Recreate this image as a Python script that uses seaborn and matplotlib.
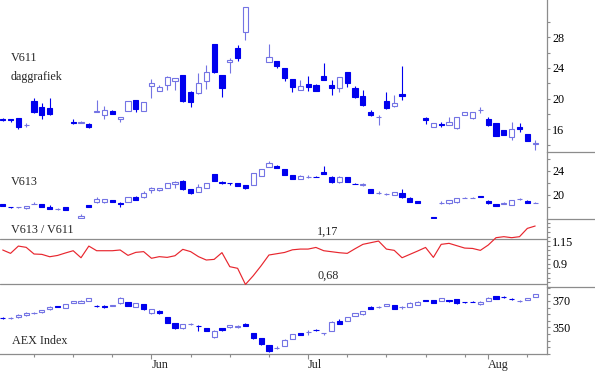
import numpy as np
import pandas as pd
import seaborn as sns
import matplotlib.pyplot as plt
from matplotlib.lines import Line2D
from matplotlib.ticker import FixedLocator, MultipleLocator

# trading day index 0..68
n_days = 69
week_ticks = [4, 9, 14, 24, 29, 34, 44, 49, 54, 59, 67]
month_ticks = [19, 39, 62]
month_labels = ["Jun", "Jul", "Aug"]

N = None
v611_open = [17.4, 17.3, 17.45, 16.5, 19.7, 18.95, 18.8, N, N, 16.95,
             16.85, 16.7, 18.3, 17.8, 18.4, 17.35, 18.4, 19.8, 18.4, 21.7,
             21.0, 21.8, 22.35, 23.05, 20.9, 20.7, 22.3, 27.1, 23.1, 24.75,
             26.65, 28.65, N, N, 24.8, 24.9, 23.95, 22.5, 21.1, 21.85,
             21.8, 22.95, 21.8, 21.35, 23.45, 21.45, 20.4, 18.2, 17.55, 19.7,
             19.05, 20.6, N, N, 17.5, 16.3, 16.7, 16.6, 16.15, 17.9,
             17.45, 18.5, 17.3, 16.8, 15.85, 15.05, 16.35, 15.35, 14.1]
v611_high = [17.5, 17.35, 17.5, 16.8, 20.1, 19.4, 20.1, N, N, 17.3,
             17.1, 16.8, 19.8, 19.1, 18.5, 17.55, 19.75, 19.85, 19.55, 22.5,
             21.8, 22.9, 22.7, 23.1, 20.95, 23.4, 24.4, 27.1, 23.1, 25.3,
             27.0, 32.0, N, N, 27.1, 24.9, 23.95, 22.5, 22.45, 22.95,
             21.9, 24.7, 22.45, 22.85, 23.5, 21.6, 21.1, 18.5, 17.85, 20.9,
             20.5, 24.3, N, N, 17.55, 16.8, 16.9, 17.55, 17.6, 18.3,
             18.25, 18.95, 17.65, 16.8, 15.9, 16.9, 16.8, 15.4, 14.6]
v611_low = [17.1, 16.9, 16.1, 16.3, 18.1, 17.4, 17.9, N, N, 16.7,
            16.8, 16.2, 18.25, 17.4, 17.95, 16.9, 18.35, 18.3, 18.35, 20.1,
            21.0, 21.1, 21.1, 19.6, 18.95, 20.6, 21.2, 23.4, 20.25, 23.4,
            24.9, 27.7, N, N, 24.8, 23.95, 22.3, 20.9, 21.1, 21.05,
            21.0, 22.4, 20.5, 20.8, 21.5, 20.1, 19.1, 17.7, 16.6, 18.7,
            18.85, 19.8, N, N, 16.7, 16.25, 16.35, 16.55, 16.1, 17.8,
            17.4, 18.1, 16.45, 15.1, 15.2, 14.55, 15.6, 14.45, 13.35]
v611_close = [17.2, 17.2, 16.3, 16.6, 18.2, 17.8, 18.0, N, N, 16.8,
              16.9, 16.25, 18.35, 18.5, 18.0, 17.55, 19.7, 18.65, 19.5, 22.0,
              21.5, 22.85, 22.65, 19.75, 19.6, 22.0, 23.45, 23.5, 21.35, 25.1,
              25.35, 32.0, N, N, 25.45, 24.25, 22.65, 21.5, 21.65, 21.55,
              21.05, 22.45, 21.45, 22.8, 22.1, 20.25, 19.2, 17.9, 17.6, 18.75,
              19.4, 20.3, N, N, 17.15, 16.8, 16.6, 16.9, 17.55, 18.2,
              18.2, 18.55, 16.6, 15.15, 15.25, 16.0, 16.1, 14.5, 14.15]

v613_open = [18.45, 17.95, 17.85, 17.7, 18.4, 18.35, 18.0, 17.6, 17.85, N,
             16.05, 18.2, 18.7, 18.7, 19.1, 18.65, 18.8, 19.65, 19.55, 20.8,
             20.75, 21.2, 21.8, 22.35, 20.9, 20.5, 21.2, 23.45, 22.15, 21.95,
             21.95, 21.6, 21.65, 23.2, 24.75, 24.9, 24.3, 23.3, 22.65, 23.0,
             23.05, 23.9, 23.05, 22.1, 22.95, 21.85, 21.7, 20.95, 20.3, 20.15,
             19.95, 20.35, 19.5, 18.95, N, 16.2, 18.6, 18.55, 18.7, 19.45,
             19.45, 19.7, 19.0, 18.4, 18.5, 18.25, 19.2, 19.0, 18.65]
v613_high = [18.5, 18.0, 17.95, 18.15, 18.7, 18.45, 18.3, 17.75, 17.9, N,
             16.7, 18.25, 19.6, 19.3, 19.15, 18.7, 19.6, 19.7, 20.6, 21.25,
             21.1, 22.05, 22.3, 22.4, 20.95, 21.8, 21.95, 23.5, 22.25, 22.0,
             22.0, 21.65, 23.65, 24.35, 25.7, 24.95, 24.35, 23.35, 23.3, 23.3,
             23.1, 24.85, 23.1, 23.1, 23.0, 21.9, 22.0, 21.0, 20.55, 20.35,
             20.5, 20.95, 19.55, 19.0, N, 16.25, 18.9, 19.15, 19.45, 19.6,
             19.6, 19.85, 19.05, 18.45, 18.75, 19.15, 19.4, 19.05, 18.85]
v613_low = [18.05, 17.8, 17.8, 17.65, 18.35, 17.95, 17.6, 17.5, 17.4, N,
            16.0, 17.85, 18.65, 18.65, 18.75, 18.0, 18.75, 19.05, 19.5, 20.25,
            20.7, 21.15, 21.2, 20.85, 20.2, 20.45, 21.15, 22.3, 21.8, 21.6,
            21.45, 21.0, 21.6, 23.15, 24.7, 24.5, 23.3, 22.65, 22.6, 22.8,
            22.95, 23.45, 22.05, 22.05, 22.15, 21.75, 21.45, 20.3, 20.1, 19.95,
            19.9, 19.5, 18.75, 18.55, N, 16.1, 18.5, 18.5, 18.65, 19.4,
            19.4, 19.6, 18.5, 18.05, 18.45, 18.2, 19.1, 18.6, 18.55]
v613_close = [18.1, 17.85, 17.9, 18.1, 18.45, 18.0, 17.65, 17.65, 17.45, N,
              16.4, 17.87, 19.27, 19.25, 18.8, 18.4, 19.55, 19.1, 20.25, 21.2,
              21.05, 22.0, 22.15, 20.9, 20.25, 21.25, 21.9, 22.35, 22.05, 21.9,
              21.5, 21.15, 23.6, 24.3, 25.3, 24.55, 23.35, 22.7, 23.15, 23.05,
              23.0, 23.5, 22.1, 23.05, 22.2, 21.8, 21.75, 20.35, 20.35, 20.2,
              20.45, 19.55, 18.8, 18.6, N, 16.15, 18.65, 19.1, 19.4, 19.5,
              19.5, 19.65, 18.55, 18.1, 18.55, 19.1, 19.25, 18.65, 18.65]

ratio = [1.053, 1.016, 1.096, 1.082, 1.009, 1.005, 0.979, 0.993, 1.02, 1.045,
         0.968, 1.096, 1.045, 1.045, 1.045, 1.053, 0.994, 1.027, 1.035, 0.962,
         0.98, 0.972, 0.99, 1.06, 1.035, 0.98, 0.943, 0.95, 1.024, 0.87,
         0.852, 0.675, 0.771, 0.88, 0.998, 1.012, 1.026, 1.055, 1.063, 1.063,
         1.081, 1.045, 1.034, 1.023, 1.016, 1.067, 1.115, 1.133, 1.151, 1.063,
         1.049, 0.968, 1.005, 1.042, 1.081, 0.972, 1.115, 1.126, 1.1, 1.074,
         1.07, 1.049, 1.107, 1.188, 1.199, 1.188, 1.199, 1.29, 1.316]
ratio_max, ratio_min = 1.17, 0.68

aex_open = [357.1, 357.2, 357.6, 359.1, 360.6, 361.4, 363.7, 365.9, 364.7, 368.7,
            368.8, 370.2, 366.5, 366.0, 366.4, 368.3, 369.0, 365.7, 367.5, 360.7,
            362.6, 357.6, 353.1, 349.3, 352.6, 351.3, 349.3, 342.9, 349.3, 349.9,
            349.9, 352.5, 345.5, 341.7, 336.6, 334.3, 336.1, 341.1, 345.5, 346.6,
            348.3, 345.4, 347.5, 355.0, 355.0, 358.6, 359.9, 365.7, 365.6, 366.2,
            367.0, 365.6, 365.7, 367.0, 370.4, 370.8, 370.0, 370.4, 371.3, 369.2,
            369.6, 367.5, 370.2, 373.8, 373.0, 371.7, 369.9, 370.8, 373.3]
aex_high = [357.8, 357.8, 359.8, 361.4, 361.5, 363.5, 366.0, 366.4, 368.0, 370.3,
            370.5, 372.4, 367.3, 366.6, 367.2, 372.8, 369.4, 368.6, 367.8, 364.0,
            363.0, 358.0, 353.5, 352.9, 353.6, 351.8, 349.8, 347.8, 349.7, 351.8,
            351.6, 353.2, 346.0, 342.3, 337.0, 335.5, 340.8, 345.0, 346.0, 348.2,
            348.8, 346.0, 354.6, 356.5, 357.9, 361.0, 362.7, 366.0, 366.3, 367.8,
            367.3, 366.5, 369.0, 369.8, 370.7, 371.1, 372.3, 370.9, 371.6, 369.6,
            370.0, 369.8, 372.8, 374.1, 373.6, 372.2, 370.9, 372.3, 375.6]
aex_low = [356.4, 356.7, 357.2, 358.7, 359.9, 361.0, 363.3, 365.2, 364.3, 368.3,
           368.4, 369.8, 365.2, 364.9, 366.0, 368.0, 366.0, 365.3, 363.4, 359.8,
           360.2, 353.0, 349.0, 348.8, 352.0, 347.5, 347.2, 342.3, 347.5, 349.5,
           349.6, 351.0, 341.4, 336.8, 331.5, 333.8, 335.8, 340.8, 344.0, 344.2,
           347.4, 344.2, 347.2, 352.2, 354.7, 358.3, 359.6, 363.7, 365.0, 365.9,
           363.7, 364.2, 365.4, 366.7, 369.8, 368.4, 369.7, 369.3, 367.5, 368.6,
           369.1, 367.2, 369.9, 371.2, 372.2, 370.8, 369.3, 370.5, 373.0]
aex_close = [356.8, 357.4, 359.4, 361.1, 360.8, 363.2, 365.7, 365.7, 367.7, 370.0,
             370.2, 372.0, 366.0, 365.6, 366.9, 372.0, 366.4, 368.3, 363.7, 363.7,
             360.7, 353.5, 349.3, 352.5, 352.9, 350.8, 347.5, 347.5, 347.8, 351.5,
             351.3, 351.2, 341.7, 337.1, 332.3, 334.6, 340.4, 344.7, 344.2, 346.8,
             347.8, 345.6, 354.3, 352.5, 357.6, 360.7, 362.4, 364.0, 365.8, 367.5,
             364.0, 365.8, 368.7, 369.5, 370.1, 368.7, 372.0, 370.1, 368.3, 368.9,
             369.4, 369.5, 372.5, 371.5, 372.7, 371.4, 370.1, 372.0, 375.3]

FILLED = "#0000ee"
HOLLOW = "#7474e4"
GRID = "#8c8c8c"
RED = "#e8262e"


def draw_candles(ax, o, h, l, c):
    df = pd.DataFrame({"open": o, "high": h, "low": l, "close": c},
                      dtype=float)
    df["day"] = np.arange(len(df))
    df = df.dropna()
    up = df["close"] >= df["open"]
    for is_up, part in df.groupby(up):
        col = HOLLOW if is_up else FILLED
        ax.vlines(part["day"], part["low"], part["high"], color=col,
                  lw=0.8, zorder=2)
        body = (part["close"] - part["open"]).abs()
        ax.bar(part["day"], body, bottom=part[["open", "close"]].min(axis=1),
               width=0.66, facecolor="white" if is_up else FILLED,
               edgecolor=col, linewidth=0.8, zorder=3)


sns.set_style("white")
plt.rcParams["font.family"] = ["Liberation Serif", "DejaVu Serif"]
plt.rcParams["font.size"] = 8.7

W, H = 595, 372
fig = plt.figure(figsize=(W / 100, H / 100), dpi=100)

right = 547 / W
bands = [(0, 152), (152, 219), (219, 287), (287, 354)]
axes = []
for top, bot in bands:
    ax = fig.add_axes([0, 1 - bot / H, right, (bot - top) / H])
    axes.append(ax)
ax1, ax2, ax3, ax4 = axes

draw_candles(ax1, v611_open, v611_high, v611_low, v611_close)
draw_candles(ax2, v613_open, v613_high, v613_low, v613_close)
sns.lineplot(x=np.arange(n_days), y=ratio, ax=ax3, color=RED,
             linewidth=0.85, zorder=3)
ax3.axhline(ratio_max, color=GRID, lw=0.9, zorder=1)
ax3.axhline(ratio_min, color=GRID, lw=0.9, zorder=1)
draw_candles(ax4, aex_open, aex_high, aex_low, aex_close)

ax1.set_ylim(13.04, 32.86)
ax2.set_ylim(15.9, 27.2)
ax3.set_ylim(0.647, 1.393)
ax4.set_ylim(329.8, 380.6)

ax1.yaxis.set_major_locator(FixedLocator([16, 20, 24, 28]))
ax1.yaxis.set_minor_locator(FixedLocator([14, 18, 22, 26, 30]))
ax2.yaxis.set_major_locator(FixedLocator([20, 24]))
ax2.yaxis.set_minor_locator(FixedLocator([18, 22, 26]))
ax3.yaxis.set_major_locator(FixedLocator([0.9, 1.15]))
ax3.yaxis.set_minor_locator(MultipleLocator(0.05))
ax3.set_yticklabels(["0.9", "1.15"])
ax4.yaxis.set_major_locator(FixedLocator([350, 370]))
ax4.yaxis.set_minor_locator(MultipleLocator(5))

for ax in axes:
    ax.set_xlim(-0.345, 69.51)
    ax.set_xlabel("")
    ax.set_ylabel("")
    for s in ["left", "top", "bottom"]:
        ax.spines[s].set_visible(False)
    ax.spines["right"].set_color(GRID)
    ax.spines["right"].set_linewidth(0.9)
    ax.yaxis.tick_right()
    ax.tick_params(axis="y", which="both", right=True, left=False,
                   length=2.2, width=0.8, color=GRID, pad=1.5,
                   labelsize=8.7, labelcolor="black")
    ax.tick_params(axis="x", which="both", bottom=False, labelbottom=False)
    ax.set_facecolor("none")

ax4.spines["bottom"].set_visible(True)
ax4.spines["bottom"].set_color(GRID)
ax4.spines["bottom"].set_linewidth(0.9)
ax4.xaxis.set_major_locator(FixedLocator(month_ticks))
ax4.xaxis.set_minor_locator(FixedLocator(week_ticks))
ax4.set_xticklabels(month_labels, ha="left")
ax4.tick_params(axis="x", which="major", bottom=True, labelbottom=True,
                length=3.6, width=0.8, color=GRID, pad=0.3, labelsize=8.7)
ax4.tick_params(axis="x", which="minor", bottom=True, length=2.2,
                width=0.8, color=GRID)

# separators in the right-hand label column
for y in [152, 219, 287]:
    fig.add_artist(Line2D([right, 1], [1 - y / H, 1 - y / H],
                          color=GRID, lw=0.9))

texts = [("V611", 11, 58), ("daggrafiek", 11, 77), ("V613", 11, 182),
         ("V613 / V611", 11, 230), ("1,17", 317, 232), ("0,68", 317, 276),
         ("AEX Index", 12, 341)]
for s, x, y in texts:
    fig.text(x / W, 1 - y / H, s, ha="left", va="center", fontsize=8.7)

fig.savefig("out.png", dpi=100)
